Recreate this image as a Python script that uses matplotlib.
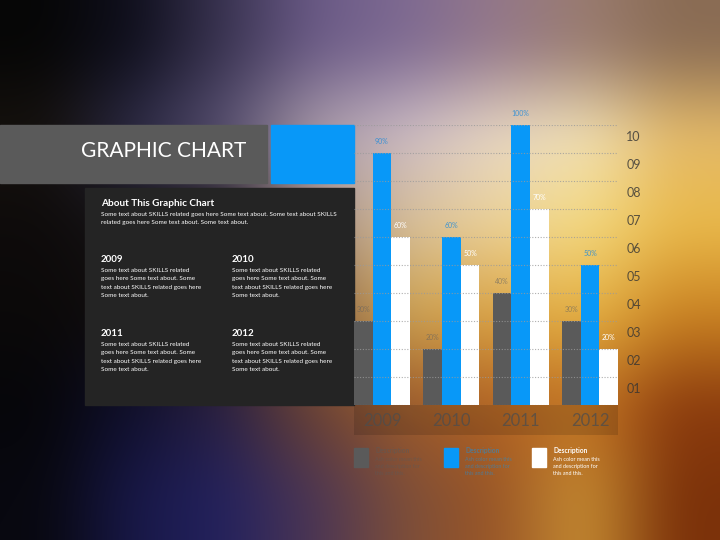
import numpy as np
import matplotlib.pyplot as plt
from matplotlib.patches import Rectangle
from matplotlib.colors import to_rgb
from matplotlib.ticker import FixedLocator, FixedFormatter

plt.rcParams['font.family'] = ['Lato', 'DejaVu Sans']

# data
years = ['2009', '2010', '2011', '2012']
ash_values = [30, 20, 40, 30]
blue_values = [90, 60, 100, 50]
white_values = [60, 50, 70, 20]
scale_labels = ['01', '02', '03', '04', '05', '06', '07', '08', '09', '10']

heading = 'About This Graphic Chart'
about_lines = ['Some text about SKILLS related goes here Some text about. Some text about SKILLS',
               'related goes here Some text about. Some text about.']
year_lines = ['Some text about SKILLS related', 'goes here Some text about. Some',
              'text about SKILLS related goes here', 'Some text about.']
legend_lines = ['Ash color mean this', 'and description for', 'this and this.']

ASH = '#5a5a5a'
BLUE = '#0898f8'

# blurred backdrop (colour grid, cell centres every 90 px)
grid_hex = [
    ['#060606', '#10101e', '#3a3452', '#6a5a86', '#7e6a92', '#94788a', '#9a7c70', '#8a6c54'],
    ['#16120e', '#2e2c48', '#5a5274', '#aa9caa', '#ccbcc6', '#e8d8c6', '#f2e2b8', '#e4ba6a'],
    ['#0e0b0b', '#161416', '#221c1c', '#a48c80', '#d6be98', '#ecd298', '#f4da80', '#eaba4a'],
    ['#0b0909', '#120e0e', '#2c1e1a', '#8c6242', '#cca252', '#daa242', '#e6b242', '#ca8222'],
    ['#06060a', '#10102e', '#2c2244', '#6c4232', '#9c5a2a', '#b26222', '#c27222', '#8c3c0e'],
    ['#080810', '#181848', '#24225e', '#4c3654', '#7c4e3a', '#9a5626', '#c68c32', '#7c320a'],
]
G = np.array([[to_rgb(c) for c in row] for row in grid_hex])
gx = 45 + 90 * np.arange(8)
gy = 45 + 90 * np.arange(6)
xs = np.arange(720) + 0.5
ys = np.arange(540) + 0.5
tmp = np.stack([np.stack([np.interp(xs, gx, G[r, :, k]) for k in range(3)], -1) for r in range(6)])
img = np.stack([np.stack([np.interp(ys, gy, tmp[:, c, k]) for k in range(3)], -1) for c in range(720)], 1)


def box_blur(a, r, axis):
    pad = [(0, 0)] * a.ndim
    pad[axis] = (r, r)
    p = np.pad(a, pad, mode='edge')
    c = np.insert(np.cumsum(p, axis=axis), 0, 0, axis=axis)
    n = a.shape[axis]
    return (np.take(c, np.arange(2 * r + 1, 2 * r + 1 + n), axis=axis)
            - np.take(c, np.arange(n), axis=axis)) / (2 * r + 1)


for _ in range(3):
    img = box_blur(img, 22, 0)
    img = box_blur(img, 22, 1)
img = np.clip(img, 0, 1)

fig = plt.figure(figsize=(7.2, 5.4), dpi=100)
bg = fig.add_axes([0, 0, 1, 1])
bg.imshow(img, extent=(0, 720, 540, 0), aspect='auto', interpolation='bilinear')
bg.set_xlim(0, 720)
bg.set_ylim(540, 0)
bg.axis('off')

# title band, blue block, dark text panel
bg.add_patch(Rectangle((0, 125), 267, 58, color=ASH))
bg.add_patch(Rectangle((271, 125), 83, 58, color=BLUE))
bg.add_patch(Rectangle((85, 188), 269, 217, color='#242424'))
bg.add_patch(Rectangle((354, 405), 264, 30, color='black', alpha=0.13, lw=0))
bg.text(246, 157, 'GRAPHIC CHART', color='white', fontsize=15, ha='right', va='baseline')

bg.text(101, 203.5, heading, color='white', fontsize=7.2, fontweight='bold', va='center')
for i, line in enumerate(about_lines):
    bg.text(101, 214.3 + i * 8.4, line, color='white', fontsize=4.6, va='center')

for k, (x0, y0) in enumerate([(101, 259), (232, 259), (101, 333), (232, 333)]):
    bg.text(x0, y0, years[k], color='white', fontsize=7, fontweight='bold', va='center')
    for i, line in enumerate(year_lines):
        bg.text(x0, y0 + 11.3 + i * 8.35, line, color='white', fontsize=4.6, va='center')

# legend blocks
for x0, col, tcol, ta in [(354, ASH, ASH, 0.55), (444, BLUE, BLUE, 0.5), (532, 'white', 'white', 1.0)]:
    bg.add_patch(Rectangle((x0, 448), 14, 19, color=col))
    bg.text(x0 + 21, 450.7, 'Description', color=tcol, alpha=ta, fontsize=4.8,
            fontweight='bold', va='center')
    for i, line in enumerate(legend_lines):
        bg.text(x0 + 21, 459.3 + i * 7.2, line, color=tcol, alpha=ta, fontsize=3.9, va='center')

# bar chart
ax = fig.add_axes([354 / 720, (540 - 405) / 540, (618 - 354) / 720, (405 - 125) / 540])
ax.patch.set_alpha(0)
x = np.arange(len(years))
w = 0.269
b1 = ax.bar(x - w, ash_values, w, color=ASH)
b2 = ax.bar(x, blue_values, w, color=BLUE)
b3 = ax.bar(x + w, white_values, w, color='white')
ax.bar_label(b1, fmt='%g%%', padding=6, fontsize=5, color=(0.38, 0.38, 0.38, 0.6))
ax.bar_label(b2, fmt='%g%%', padding=6, fontsize=5, color=(0.15, 0.55, 0.85, 0.85))
ax.bar_label(b3, fmt='%g%%', padding=6, fontsize=5, color='white')

ax.set_xlim(-1.5 * w, len(years) - 1 + 1.5 * w)
ax.set_ylim(0, 100)
ax.set_xticks(x)
ax.set_xticklabels(years)
ax.tick_params(axis='x', length=0, pad=6, labelsize=12, labelcolor=(0.3, 0.3, 0.3, 0.75))

ax.set_yticks(range(0, 101, 10))
ax.yaxis.set_minor_locator(FixedLocator([10 * (i + 1) - 4 for i in range(len(scale_labels))]))
ax.yaxis.set_minor_formatter(FixedFormatter(scale_labels))
ax.tick_params(axis='y', which='major', length=0, labelleft=False)
ax.tick_params(axis='y', which='minor', length=0, left=False, right=True, labelleft=False,
               labelright=True, pad=6, labelsize=9, labelcolor=(0.2, 0.2, 0.2, 0.8))
ax.set_axisbelow(False)
ax.grid(axis='y', color='#9a9a9a', linestyle=(0, (1, 1.5)), linewidth=0.8, alpha=0.8)
for s in ax.spines.values():
    s.set_visible(False)

fig.savefig('out.png', dpi=100)
